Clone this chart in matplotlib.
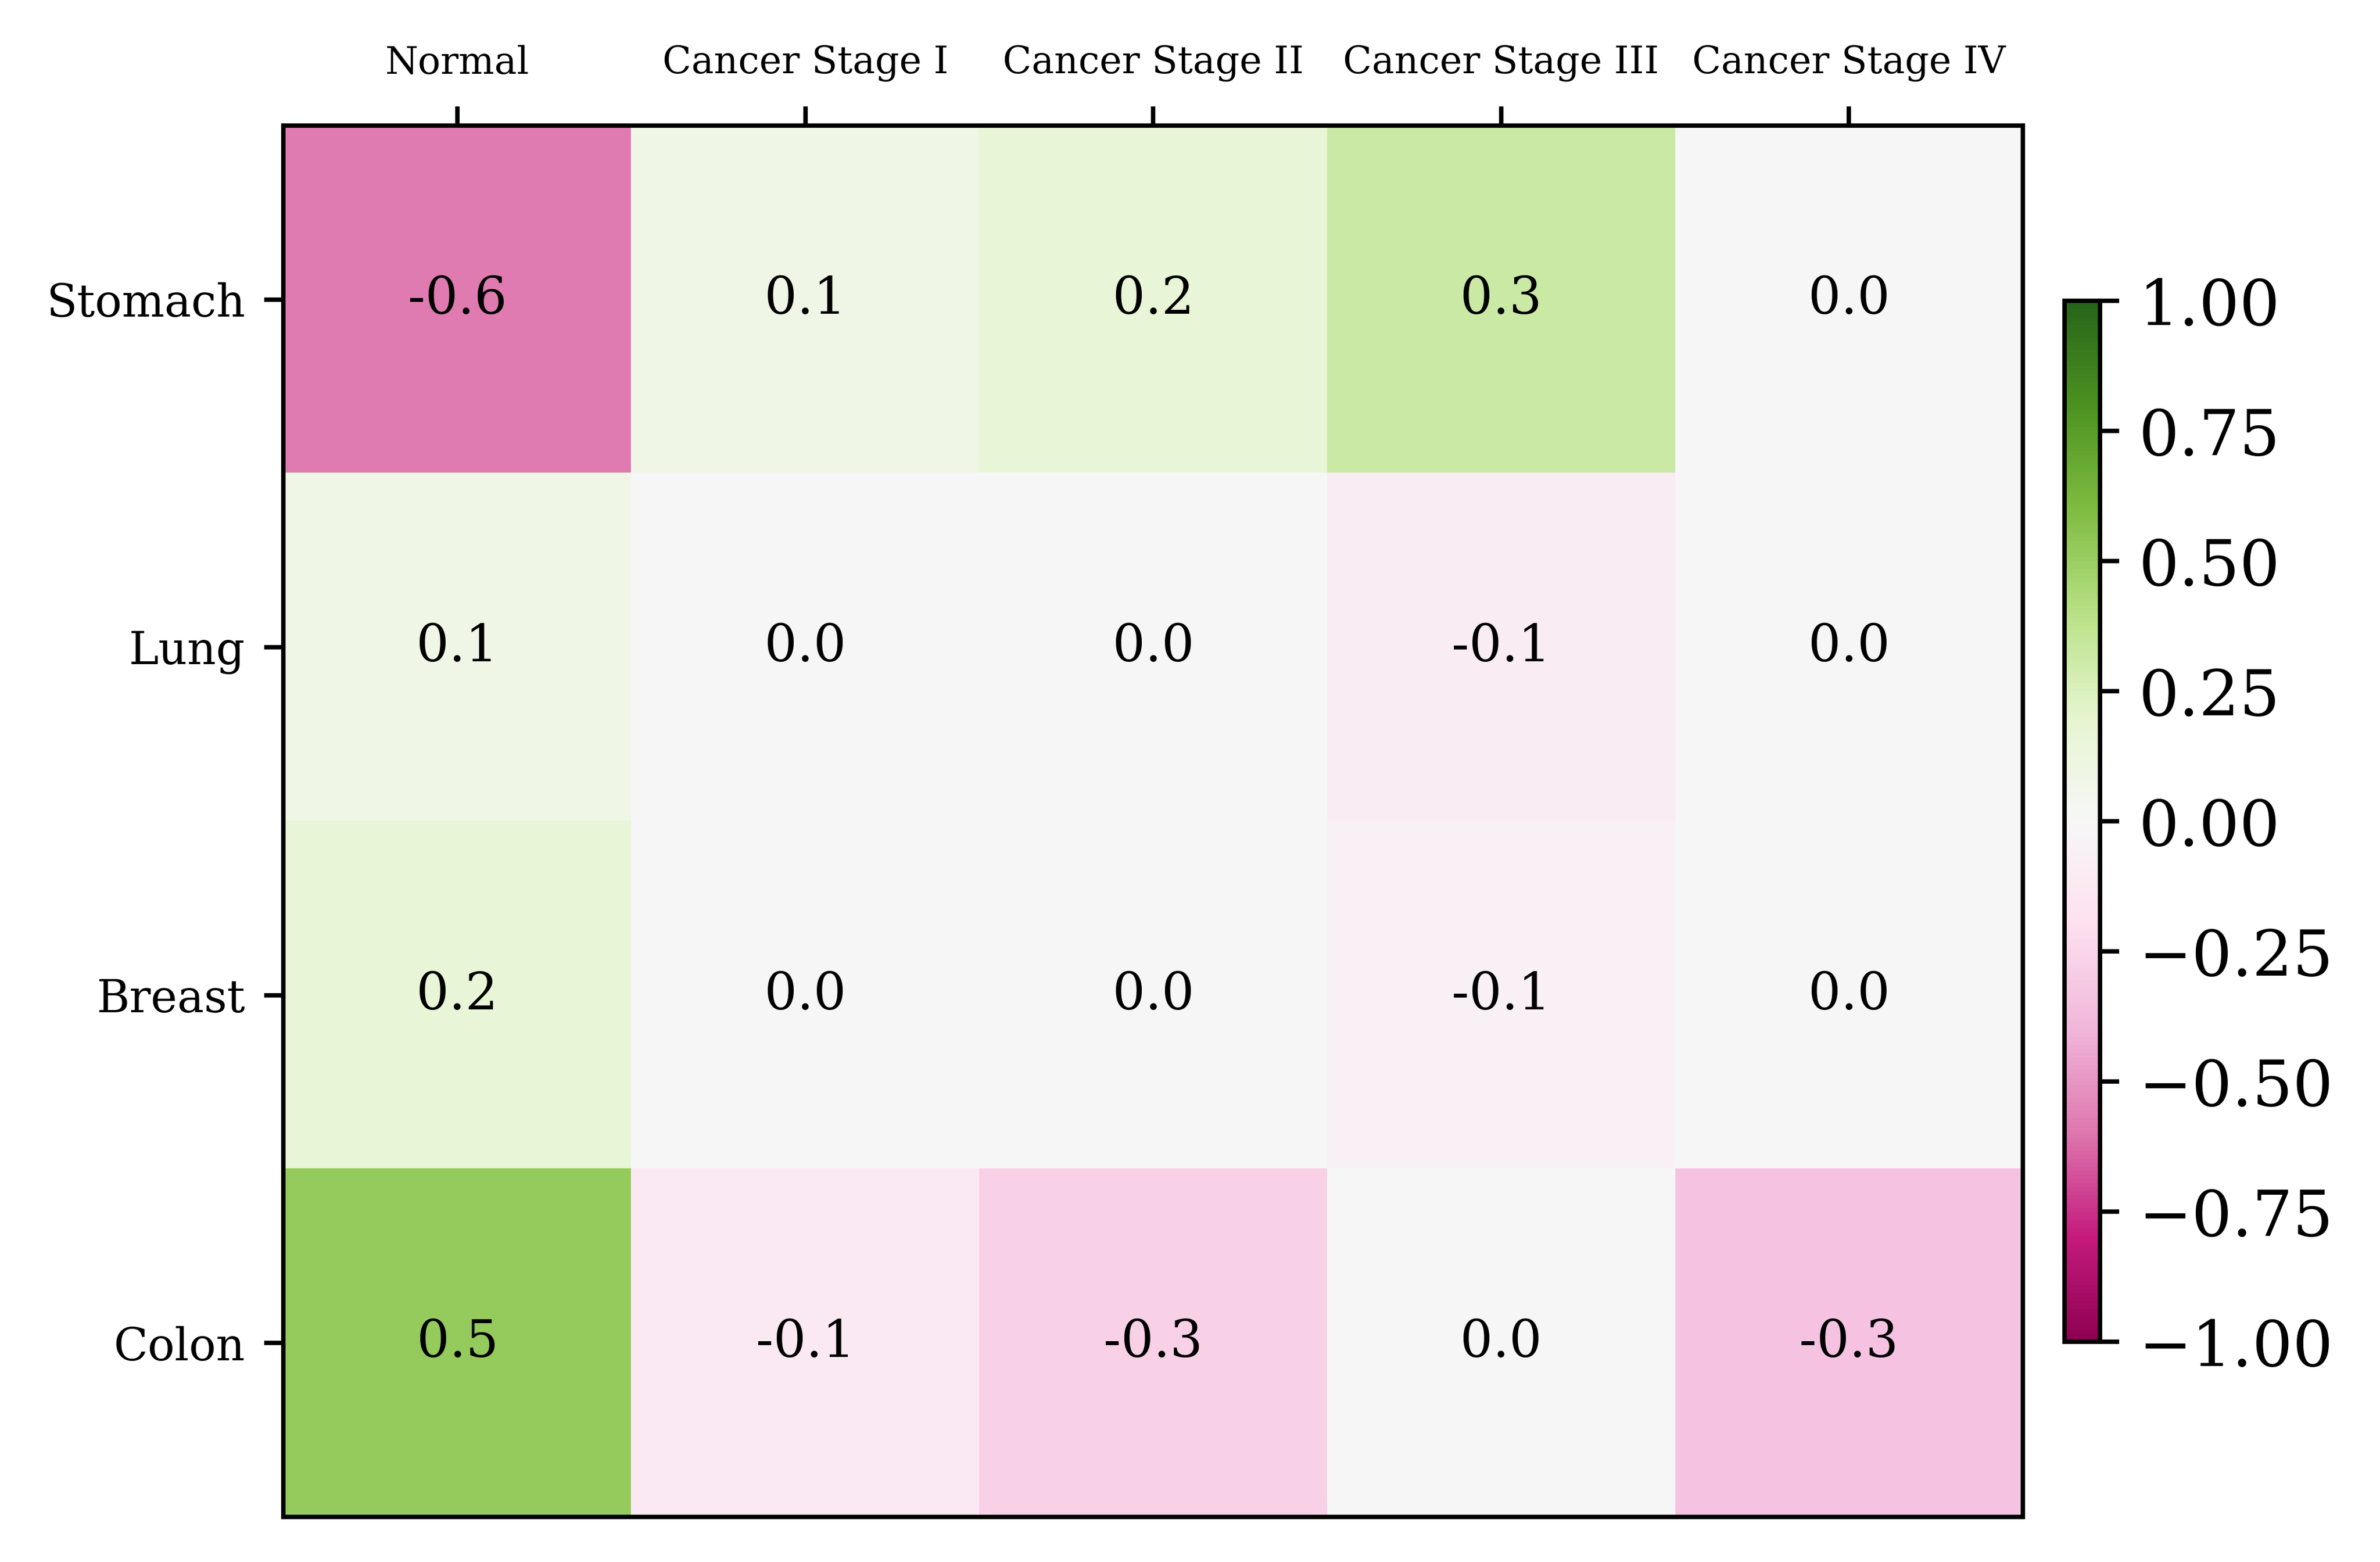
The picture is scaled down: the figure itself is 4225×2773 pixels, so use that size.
import numpy as np
import matplotlib
matplotlib.use('Agg')
import matplotlib.pyplot as plt

plt.rcParams['font.family'] = 'DejaVu Serif'

tissues = ['Stomach', 'Lung', 'Breast', 'Colon']
stages = ['Normal', 'Cancer Stage I', 'Cancer Stage II', 'Cancer Stage III', 'Cancer Stage IV']

stomach = [-0.58, 0.09, 0.17, 0.32, 0.0]
lung = [0.09, 0.0, 0.0, -0.08, 0.0]
breast = [0.16, 0.0, 0.0, -0.06, 0.0]
colon = [0.52, -0.11, -0.27, 0.0, -0.33]


def main():
    data = np.array([stomach, lung, breast, colon])

    fig = plt.figure(figsize=(4225 / 700, 2773 / 700), dpi=700)
    ax = fig.add_axes([0.1191, 0.0289, 0.7309, 0.8907])
    cax = fig.add_axes([0.8675, 0.1410, 0.0149, 0.6664])

    im = ax.imshow(data, cmap='PiYG', vmin=-1, vmax=1, aspect='auto')

    ax.set_xticks(np.arange(len(stages)))
    ax.set_xticklabels(stages, fontsize=6.9)
    ax.set_yticks(np.arange(len(tissues)))
    ax.set_yticklabels(tissues, fontsize=8.2)
    ax.xaxis.tick_top()
    ax.tick_params(axis='x', pad=4.5)

    for i in range(len(tissues)):
        for j in range(len(stages)):
            ax.text(j, i, f'{data[i, j]:.1f}', ha='center', va='center',
                    color='black', fontsize=9.4)

    cb = fig.colorbar(im, cax=cax)
    cb.ax.tick_params(labelsize=11.6)

    fig.savefig('out.png', dpi=700)


if __name__ == '__main__':
    main()
